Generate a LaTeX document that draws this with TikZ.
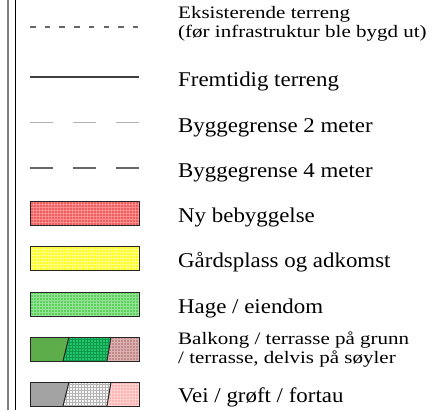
\documentclass[tikz,border=0pt]{standalone}
\usepackage{fontspec}
\setmainfont{Liberation Serif}
\newfontfamily\bigfam[FakeStretch=1.09]{Liberation Serif}
\newfontfamily\smallfam[FakeStretch=1.2]{Liberation Serif}
\definecolor{redbase}{HTML}{F05A5A}
\definecolor{redgrid}{HTML}{FF9090}
\definecolor{yelbase}{HTML}{FFFF1A}
\definecolor{yelgrid}{HTML}{FFFF8A}
\definecolor{grnbase}{HTML}{5CCF5C}
\definecolor{grngrid}{HTML}{95E495}
\definecolor{balka}{HTML}{5DAD4A}
\definecolor{balkbbase}{HTML}{22C46E}
\definecolor{balkbgrid}{HTML}{0F9A4A}
\definecolor{balkcbase}{HTML}{C08A8A}
\definecolor{balkcgrid}{HTML}{DDB0B0}
\definecolor{veia}{HTML}{A3A3A3}
\definecolor{veibbase}{HTML}{F6F6F6}
\definecolor{veibgrid}{HTML}{B5B5B5}
\definecolor{veicbase}{HTML}{FFB3B3}
\definecolor{veicgrid}{HTML}{FFD2D2}
\begin{document}
\begin{tikzpicture}[x=1pt,y=1pt,
  bigtxt/.style={anchor=base west,inner sep=0pt,font=\bigfam\fontsize{21}{24}\selectfont},
  smalltxt/.style={anchor=base west,inner sep=0pt,align=left,font=\smallfam\fontsize{17.5}{18.5}\selectfont},
  boxedge/.style={draw=black!85,line width=1pt},
  gridl/.style={line width=0.8pt}]
\useasboundingbox (0,0) rectangle (441,-410);
% left border
\draw[gray,line width=2pt] (7.5,0) -- (7.5,-410);
\draw[black,line width=1pt] (15,0) -- (15,-410);
% row 1 dashed
\coordinate (l1a) at (30,-27); \coordinate (l1b) at (139,-27);
\draw[black!60,line width=1.3pt,dash pattern=on 5.5pt off 9.2pt] (l1a) -- (l1b);
\node[smalltxt] (t1) at (178,-37) {Eksisterende terreng\\(før infrastruktur ble bygd ut)};
% row 2 solid
\coordinate (l2a) at (30,-77); \coordinate (l2b) at (139,-77);
\draw[black!75,line width=1.3pt] (l2a) -- (l2b);
\node[bigtxt] (t2) at (178,-86) {Fremtidig terreng};
% row 3
\coordinate (l3a) at (30,-122); \coordinate (l3b) at (139,-122);
\draw[black!30,line width=1pt,dash pattern=on 22.5pt off 20.5pt] (l3a) -- (l3b);
\node[bigtxt] (t3) at (178,-132) {Byggegrense 2 meter};
% row 4
\coordinate (l4a) at (30,-168); \coordinate (l4b) at (139,-168);
\draw[black!60,line width=1.3pt,dash pattern=on 22.5pt off 20.5pt] (l4a) -- (l4b);
\node[bigtxt] (t4) at (178,-177) {Byggegrense 4 meter};
% row 5 red
\begin{scope}
\clip (30,-201) rectangle (139,-225);
\fill[redbase] (30,-201) rectangle (139,-225);
\draw[redgrid,gridl,step=3pt] (30,-226) grid (140,-200);
\end{scope}
\draw[boxedge] (30,-201) rectangle (139,-225);
\node[bigtxt] (t5) at (178,-222) {Ny bebyggelse};
% row 6 yellow
\begin{scope}
\clip (30,-246) rectangle (139,-270);
\fill[yelbase] (30,-246) rectangle (139,-270);
\draw[yelgrid,gridl,step=3pt] (30,-271) grid (140,-245);
\end{scope}
\draw[boxedge] (30,-246) rectangle (139,-270);
\node[bigtxt] (t6) at (178,-267) {Gårdsplass og adkomst};
% row 7 green
\begin{scope}
\clip (30,-292) rectangle (139,-316);
\fill[grnbase] (30,-292) rectangle (139,-316);
\draw[grngrid,gridl,step=3pt] (30,-317) grid (140,-291);
\end{scope}
\draw[boxedge] (30,-292) rectangle (139,-316);
\node[bigtxt] (t7) at (178,-313) {Hage / eiendom};
% row 8 balkong
\fill[balka] (30,-337) -- (69,-337) -- (63,-361) -- (30,-361) -- cycle;
\begin{scope}
\clip (69,-337) -- (111,-337) -- (107,-361) -- (63,-361) -- cycle;
\fill[balkbbase] (60,-337) rectangle (112,-361);
\draw[balkbgrid,gridl,line width=0.6pt,step=3pt] (60,-362) grid (112,-336);
\end{scope}
\begin{scope}
\clip (111,-337) -- (139,-337) -- (139,-361) -- (107,-361) -- cycle;
\fill[balkcbase] (105,-337) rectangle (139,-361);
\draw[balkcgrid,gridl,line width=0.6pt,step=3pt] (105,-362) grid (140,-336);
\end{scope}
\draw[boxedge] (30,-337) rectangle (139,-361);
\draw[boxedge] (69,-337) -- (63,-361);
\draw[boxedge] (111,-337) -- (107,-361);
\node[smalltxt] (t8) at (178,-363) {Balkong / terrasse på grunn\\/ terrasse, delvis på søyler};
% row 9 vei
\fill[veia] (30,-382) -- (69,-382) -- (63,-406) -- (30,-406) -- cycle;
\begin{scope}
\clip (69,-382) -- (111,-382) -- (107,-406) -- (63,-406) -- cycle;
\fill[veibbase] (60,-382) rectangle (112,-406);
\draw[veibgrid,gridl,line width=0.6pt,step=3pt] (60,-407) grid (112,-381);
\end{scope}
\begin{scope}
\clip (111,-382) -- (139,-382) -- (139,-406) -- (107,-406) -- cycle;
\fill[veicbase] (105,-382) rectangle (139,-406);
\draw[veicgrid,gridl,line width=0.6pt,step=3pt] (105,-407) grid (140,-381);
\end{scope}
\draw[boxedge] (30,-382) rectangle (139,-406);
\draw[boxedge] (69,-382) -- (63,-406);
\draw[boxedge] (111,-382) -- (107,-406);
\node[bigtxt] (t9) at (178,-402) {Vei / grøft / fortau};
\end{tikzpicture}
\end{document}
